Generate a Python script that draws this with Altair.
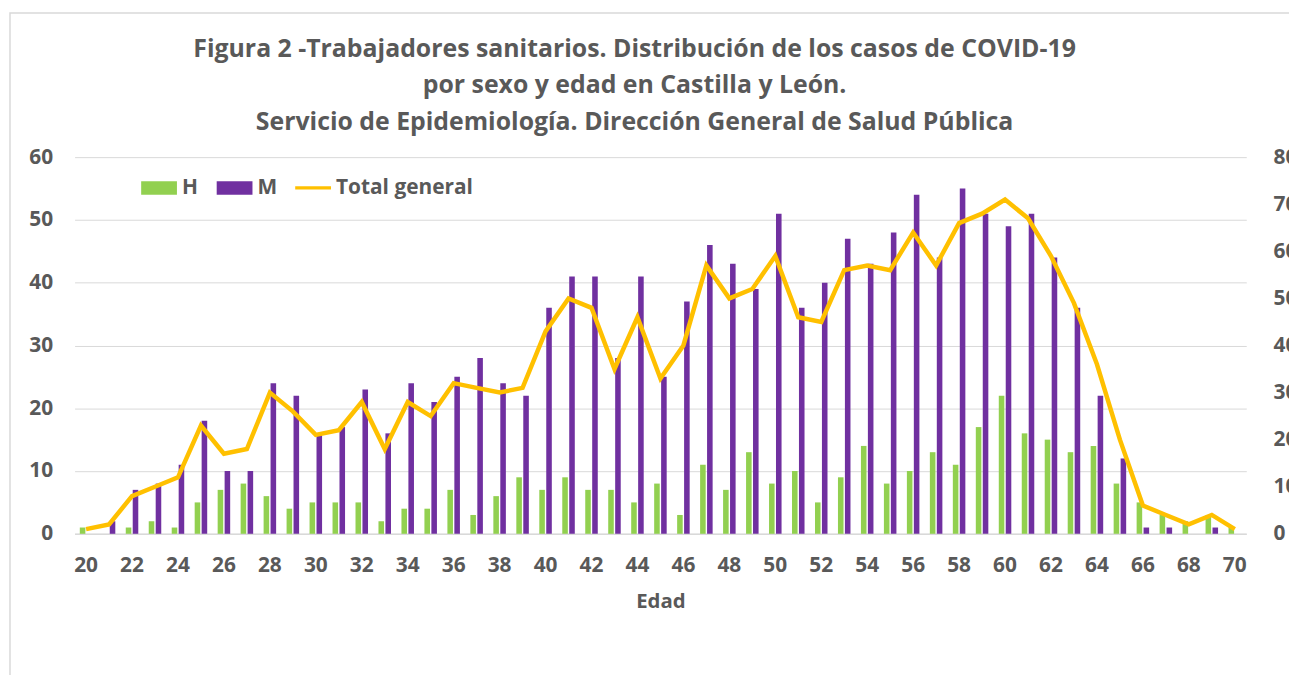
import altair as alt
import pandas as pd

edades = list(range(20, 71))
hombres = [1, 0, 1, 2, 1, 5, 7, 8, 6, 4,
           5, 5, 5, 2, 4, 4, 7, 3, 6, 9,
           7, 9, 7, 7, 5, 8, 3, 11, 7, 13,
           8, 10, 5, 9, 14, 8, 10, 13, 11, 17,
           22, 16, 15, 13, 14, 8, 5, 3, 2, 3, 1]
mujeres = [0, 2, 7, 8, 11, 18, 10, 10, 24, 22,
           16, 17, 23, 16, 24, 21, 25, 28, 24, 22,
           36, 41, 41, 28, 41, 25, 37, 46, 43, 39,
           51, 36, 40, 47, 43, 48, 54, 44, 55, 51,
           49, 51, 44, 36, 22, 12, 1, 1, 0, 1, 0]
total = [1, 2, 8, 10, 12, 23, 17, 18, 30, 26,
         21, 22, 28, 18, 28, 25, 32, 31, 30, 31,
         43, 50, 48, 35, 46, 33, 40, 57, 50, 52,
         59, 46, 45, 56, 57, 56, 64, 57, 66, 68,
         71, 67, 59, 49, 36, 20, 6, 4, 2, 4, 1]
series = ["H", "M", "Total general"]
colores = ["#92D050", "#7030A0", "#FFC000"]
titulo = ["Figura 2 -Trabajadores sanitarios. Distribución de los casos de COVID-19",
          "por sexo y edad en Castilla y León.",
          "Servicio de Epidemiología. Dirección General de Salud Pública"]
x_labels = list(range(20, 71, 2))
y_left = list(range(0, 61, 10))
y_right = list(range(0, 81, 10))

TXT = "#595959"
GRID = "#D9D9D9"
FONT = "Open Sans"

bars_df = pd.DataFrame({
    "edad": edades * 2,
    "sexo": ["H"] * len(edades) + ["M"] * len(edades),
    "casos": hombres + mujeres,
})
line_df = pd.DataFrame({"edad": edades, "total": total})
legend_df = pd.DataFrame({"serie": series})
frame_df = pd.DataFrame({"k": [0]})

x_scale = alt.Scale(paddingInner=0.455, paddingOuter=0.2275)

bars = alt.Chart(bars_df).mark_bar().encode(
    x=alt.X("edad:O", scale=x_scale,
            axis=alt.Axis(values=x_labels, labelAngle=0, ticks=False,
                          domain=True, domainColor=GRID, domainWidth=1.5,
                          grid=False, labelPadding=21, title="Edad",
                          titlePadding=16)),
    xOffset=alt.XOffset("sexo:N", scale=alt.Scale(domain=["H", "M"], paddingInner=0.2, paddingOuter=0)),
    y=alt.Y("casos:Q", scale=alt.Scale(domain=[0, 60], nice=False),
            axis=alt.Axis(values=y_left, grid=True, gridColor=GRID, gridWidth=1,
                          domain=False, ticks=False, labelPadding=22, title=None)),
    color=alt.Color("sexo:N", scale=alt.Scale(domain=["H", "M"], range=colores[:2]), legend=None),
)

line = alt.Chart(line_df).mark_line(color="#FFC000", strokeWidth=4.5, strokeJoin="miter").encode(
    x=alt.X("edad:O", scale=x_scale),
    y=alt.Y("total:Q", scale=alt.Scale(domain=[0, 80], nice=False),
            axis=alt.Axis(orient="right", values=y_right, grid=False, domain=False,
                          ticks=False, labelPadding=27, title=None)),
)

rect_path = "M-1,-0.38L1,-0.38L1,0.38L-1,0.38Z"
line_path = "M-1,-0.09L1,-0.09L1,0.09L-1,0.09Z"
leg = alt.Legend(orient="none", legendX=67, legendY=13,
                 direction="horizontal", title=None,
                 symbolSize=1296, symbolOpacity=1, symbolStrokeWidth=0,
                 labelFont=FONT, labelFontSize=21,
                 labelFontWeight="bold", labelColor=TXT,
                 labelOffset=5, columnPadding=18, padding=0)
legend_layer = alt.Chart(legend_df).mark_point(filled=True, opacity=0).encode(
    color=alt.Color("serie:N", scale=alt.Scale(domain=series, range=colores), legend=leg),
    shape=alt.Shape("serie:N", scale=alt.Scale(domain=series, range=[rect_path, rect_path, line_path]),
                    legend=leg),
)

frame = alt.Chart(frame_df).mark_rect(fill="white", fillOpacity=0, stroke=GRID, strokeWidth=1.5).encode(
    x=alt.value(-65), x2=alt.value(1300), y=alt.value(-145), y2=alt.value(600)
)

chart = alt.layer(frame, bars, line, legend_layer).resolve_scale(
    y="independent", color="independent", shape="independent"
).properties(
    width=1179,
    height=379,
    autosize=alt.AutoSizeParams(type="none"),
    padding={"left": 67, "top": 148, "right": 43, "bottom": 140},
    title=alt.Title(text=titulo, anchor="middle", frame="group", dx=-26, dy=123,
                    font=FONT, fontSize=25, fontWeight="bold", color=TXT,
                    lineHeight=36.5, offset=0),
).configure_view(stroke=None).configure_axis(
    labelFont=FONT, labelFontSize=21, labelFontWeight="bold", labelColor=TXT,
    titleFont=FONT, titleFontSize=20.5, titleFontWeight="bold", titleColor=TXT,
)

chart.save("out.html", embed_options={"renderer": "svg", "actions": False})
